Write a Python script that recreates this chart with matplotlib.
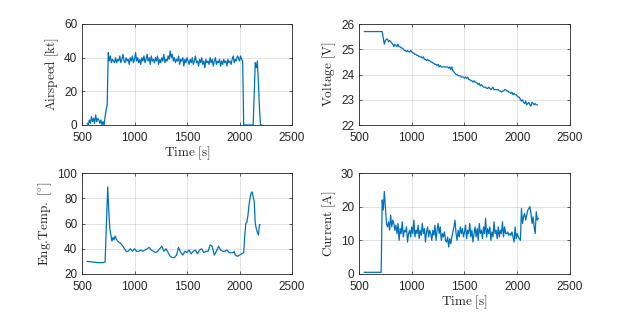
import numpy as np
import matplotlib
matplotlib.use("Agg")
import matplotlib.pyplot as plt

plt.rcParams['mathtext.fontset'] = 'cm'
plt.rcParams['font.family'] = ['Liberation Sans', 'DejaVu Sans']

# ---------------- data ----------------
t0 = 550
dt = 10

airspeed = [1, 0, 3, 1, 5, 2, 4, 1, 6, 2, 4, 3, 1, 3, 0, 2, 0, 5, 9, 12,
            43, 38, 41, 37, 39, 38, 37, 40, 37, 39, 38, 41, 37, 39, 42, 38, 37, 40, 38, 39,
            36, 40, 38, 41, 37, 39, 43, 38, 40, 37, 39, 36, 40, 38, 41, 37, 39, 42, 38, 40,
            36, 41, 38, 39, 37, 40, 38, 41, 36, 39, 37, 40, 38, 42, 37, 39, 38, 41, 39, 44,
            40, 42, 38, 40, 37, 39, 38, 41, 36, 39, 38, 40, 35, 39, 37, 40, 38, 36, 39, 37,
            40, 36, 38, 41, 37, 38, 35, 39, 37, 40, 36, 38, 34, 39, 37, 38, 36, 40, 37, 39,
            35, 38, 40, 36, 38, 37, 39, 35, 38, 36, 39, 37, 38, 35, 39, 37, 38, 36, 39, 41,
            37, 39, 38, 41, 40, 38, 41, 39,
            38, 0, 0, 0, 0, 0, 0, 0, 0, 0, 0, 18, 37, 34, 38, 25, 10, 0, 0]

voltage = [25.7] * 18 + [
    25.45, 25.2, 25.35, 25.4, 25.4, 25.3, 25.35, 25.3, 25.25, 25.2,
    25.1, 25.2, 25.15, 25.1, 25.2, 25.1, 25.1, 25.05, 25.05, 25.0,
    24.95, 24.95, 24.9, 24.95, 24.9, 24.9, 24.95, 24.9, 24.85, 24.85,
    24.8, 24.8, 24.75, 24.75, 24.7, 24.7, 24.7, 24.65, 24.7, 24.6,
    24.6, 24.55, 24.6, 24.55, 24.55, 24.5, 24.5, 24.45, 24.45, 24.4,
    24.4, 24.35, 24.4, 24.3, 24.35, 24.3, 24.3, 24.3, 24.3, 24.3,
    24.3, 24.3, 24.25, 24.3, 24.2, 24.3, 24.15, 24.1, 24.05, 24.0,
    24.0, 23.95, 23.95, 23.95, 23.9, 23.9, 23.9, 23.85, 23.9, 23.85,
    23.9, 23.8, 23.8, 23.75, 23.75, 23.7, 23.75, 23.7, 23.7, 23.65,
    23.6, 23.65, 23.55, 23.6, 23.55, 23.5, 23.5, 23.5, 23.45, 23.45,
    23.5, 23.45, 23.4, 23.45, 23.5, 23.4, 23.4, 23.4, 23.4, 23.4,
    23.35, 23.35, 23.3, 23.35, 23.35, 23.4, 23.4, 23.35, 23.35, 23.3,
    23.3, 23.25, 23.3, 23.2, 23.25, 23.2, 23.2, 23.15, 23.1, 23.1,
    23.0, 22.95, 23.0, 22.9, 22.85, 22.95, 22.8, 22.85, 22.9, 22.8,
    22.75, 22.9, 22.85, 22.8, 22.85, 22.8, 22.8]

temp_t = [550, 600, 650, 700, 720, 745, 755, 765, 775, 785, 795, 805, 815, 825, 840, 855,
          870, 890, 905, 920, 940, 960, 980, 1000, 1020, 1040, 1060, 1080, 1100, 1120,
          1140, 1160, 1180, 1200, 1220, 1240, 1260, 1280, 1300, 1320, 1340, 1360, 1380,
          1400, 1420, 1440, 1460, 1480, 1500, 1520, 1540, 1560, 1580, 1600, 1620, 1640,
          1660, 1680, 1700, 1720, 1740, 1760, 1780, 1800, 1820, 1840, 1860, 1880, 1900,
          1920, 1940, 1950, 1960, 1980, 2000, 2020, 2040, 2050, 2060, 2070, 2080, 2090,
          2100, 2110, 2120, 2130, 2140, 2150, 2160, 2170, 2180, 2190, 2195]
temp = [30, 29.5, 29, 29, 29.5, 89, 70, 56, 51, 46, 49, 47, 50, 48, 46, 45,
        44, 42, 40, 38, 38, 40, 38, 40, 38, 38, 39, 38, 39, 40,
        41, 39, 38, 37, 38, 40, 42, 38, 40, 37, 34, 33, 33,
        35, 41, 37, 35, 38, 37, 39, 36, 38, 39, 36, 39, 40,
        37, 38, 38, 43, 42, 35, 38, 42, 39, 38, 38, 39, 37,
        37, 37, 38, 35, 34, 35, 36, 37, 50, 60, 61, 66, 74,
        80, 84, 85, 81, 78, 60, 56, 53, 51, 59, 59]

current = [0.5] * 17 + [
    22, 19, 24.5, 20, 15, 14, 15.5, 13, 17.5, 14, 16, 15, 13, 14.5, 12, 15, 10, 13.5,
    12, 15.5, 11, 13, 12.5, 14, 9.5, 12, 13, 11, 14, 12, 16, 11, 13, 12, 14.5, 10.5,
    13, 11.5, 15, 12, 13.5, 9.5, 12.5, 14, 11, 13, 12, 10, 13, 11.5, 14.5, 10, 13,
    15, 12, 14, 10, 12, 11, 12.5, 10, 9.5, 11, 8, 10.5, 9, 11, 12.5, 14, 16, 12, 10,
    13, 11, 14, 12, 13.5, 11, 12.5, 14.5, 10.5, 13, 12, 15, 11, 13, 9.5, 12, 14, 11,
    13.5, 10, 15, 12, 13, 10.5, 14, 12, 16.5, 11, 13.5, 12, 14, 10, 12.5, 11, 15.5,
    12, 13, 10.5, 14, 11, 13, 12, 15.5, 11, 14, 12, 12, 12.5, 11.5, 12, 11.5, 12.5,
    11, 9.5, 14, 10.5, 12, 11, 10.5, 10, 19.5, 15, 17, 18, 16, 17.5, 19, 19.5, 20,
    18, 15, 17, 14, 12, 18.5, 16, 16.5]

t_air = t0 + dt * np.arange(len(airspeed))
t_volt = t0 + dt * np.arange(len(voltage))
t_curr = t0 + dt * np.arange(len(current))

xticks = [500, 1000, 1500, 2000, 2500]

# ---------------- figure ----------------
fig = plt.figure(figsize=(6.3, 3.15), dpi=100)
W, H = 630, 315
def add(l, t, r, b):
    return fig.add_axes([l / W, 1 - b / H, (r - l) / W, (b - t) / H])

ax1 = add(82, 24, 292, 125)
ax2 = add(359, 24, 570, 125)
ax3 = add(82, 173, 292, 274)
ax4 = add(359, 173, 570, 274)

line_c = (0, 0.447, 0.741)
axc = (0.15, 0.15, 0.15)

panels = [
    (ax1, t_air, airspeed, (0, 60), [0, 20, 40, 60], r'$\mathrm{Airspeed\ [kt]}$', True),
    (ax2, t_volt, voltage, (22, 26), [22, 23, 24, 25, 26], r'$\mathrm{Voltage\ [V]}$', False),
    (ax3, temp_t, temp, (20, 100), [20, 40, 60, 80, 100],
     r'$\mathrm{Eng.\!Temp.\ [{}^{\circ}]}$', False),
    (ax4, t_curr, current, (0, 30), [0, 10, 20, 30], r'$\mathrm{Current\ [A]}$', True),
]

for ax, x, y, ylim, yt, ylab, xl in panels:
    ax.plot(x, y, color=line_c, lw=0.9, clip_on=True)
    ax.set_xlim(500, 2500)
    ax.set_ylim(*ylim)
    ax.set_xticks(xticks)
    ax.set_yticks(yt)
    ax.grid(True, color=(0.15, 0.15, 0.15), alpha=0.15, lw=0.6)
    ax.set_axisbelow(True)
    for s in ax.spines.values():
        s.set_color(axc)
        s.set_linewidth(0.6)
    ax.tick_params(direction='in', length=2.5, width=0.5, colors=axc,
                   labelsize=8.5, top=True, right=True)
    ax.tick_params(axis='x', pad=5)
    ax.tick_params(axis='y', pad=3.5)
    ax.set_ylabel(ylab, fontsize=9.5, color=axc, labelpad=2)
    if xl:
        ax.set_xlabel(r'$\mathrm{Time\ [s]}$', fontsize=9.5, color=axc, labelpad=0.5)

fig.savefig('out.png', dpi=100)
